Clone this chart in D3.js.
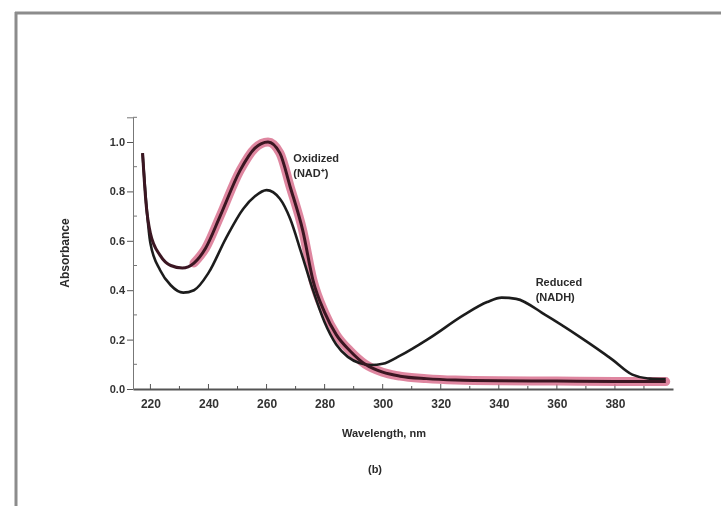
<!DOCTYPE html>
<html>
<head>
<meta charset="utf-8">
<script src="https://cdn.jsdelivr.net/npm/d3@7"></script>
<style>
  body { margin: 0; background: #fff; }
  svg text { font-family: "Liberation Sans", Arial, sans-serif; fill: #2a2a2a; }
</style>
</head>
<body>
<svg id="chart" width="721" height="506"></svg>
<script>
// wavelengths (nm) and absorbance
var oxWave = [217.3, 218.5, 220, 223.4, 227, 231, 235, 239, 244, 250.9, 256, 260.5, 264.6, 268.1, 272.5, 276, 280, 284, 288.7, 294, 300, 306, 315, 325, 340, 360, 380, 397.5];
var oxAbs  = [0.955, 0.75, 0.63, 0.54, 0.5, 0.49, 0.51, 0.57, 0.7, 0.885, 0.975, 1.0, 0.955, 0.82, 0.64, 0.44, 0.31, 0.22, 0.155, 0.1, 0.068, 0.052, 0.042, 0.036, 0.033, 0.032, 0.03, 0.03];

var redWave = [217.3, 218.5, 220, 223.4, 227, 231.3, 235, 240, 246, 252, 256, 260, 264.6, 268.1, 272, 276, 280, 284, 288, 292, 296, 300, 306, 316, 328, 336, 341, 346, 356, 368, 379, 386, 392, 397.5];
var redAbs  = [0.955, 0.76, 0.59, 0.48, 0.42, 0.39, 0.4, 0.47, 0.61, 0.73, 0.78, 0.805, 0.77, 0.69, 0.55, 0.4, 0.27, 0.18, 0.13, 0.105, 0.097, 0.102, 0.135, 0.205, 0.3, 0.352, 0.37, 0.365, 0.3, 0.21, 0.12, 0.058, 0.042, 0.04];

var xTicks = [220, 240, 260, 280, 300, 320, 340, 360, 380];
var yTicks = [0, 0.2, 0.4, 0.6, 0.8, 1.0];
var curveLabels = [
  { lines: ["Oxidized", "(NAD\u207A)"], wave: 268.5, abs: 0.92 },
  { lines: ["Reduced", "(NADH)"], wave: 352, abs: 0.415 }
];

var svg = d3.select("#chart");

// slight softening like the scanned figure
var defs = svg.append("defs");
defs.append("filter").attr("id", "soft")
  .append("feGaussianBlur").attr("stdDeviation", 0.6);

// photo frame (top and left edges)
svg.append("line").attr("x1", 15).attr("y1", 13).attr("x2", 721).attr("y2", 13)
  .style("stroke", "#8c8c8c").style("stroke-width", 3);
svg.append("line").attr("x1", 16).attr("y1", 12).attr("x2", 16).attr("y2", 506)
  .style("stroke", "#8c8c8c").style("stroke-width", 3);

var x = d3.scaleLinear().domain([214, 400]).range([133, 673]);
var y = d3.scaleLinear().domain([0, 1.1]).range([389, 117.3]);

var g = svg.append("g").attr("filter", "url(#soft)");

// axes
var xAxis = d3.axisBottom(x).tickValues(xTicks).tickSize(0).tickPadding(10)
  .tickFormat(d3.format("d"));
var gx = g.append("g").attr("transform", "translate(0," + y(0) + ")").call(xAxis);
gx.select(".domain").style("stroke", "#555").style("stroke-width", 2.2);
gx.selectAll("text").style("font-size", "12px").style("font-weight", "bold").style("fill", "#333");

// small upward ticks on the x axis
g.selectAll(".xminor").data(d3.range(220, 400, 10)).enter().append("line")
  .attr("x1", function (d) { return x(d); }).attr("x2", function (d) { return x(d); })
  .attr("y1", y(0)).attr("y2", function (d) { return y(0) - (d % 20 == 0 ? 5 : 3); })
  .style("stroke", "#555").style("stroke-width", 1);

var yAxis = d3.axisLeft(y).tickValues(yTicks).tickSize(6).tickPadding(2)
  .tickFormat(d3.format(".1f"));
var gy = g.append("g").attr("transform", "translate(" + x(214) + ",0)").call(yAxis);
gy.select(".domain").style("stroke", "#777").style("stroke-width", 1);
gy.selectAll(".tick line").style("stroke", "#555");
gy.selectAll("text").style("font-size", "11px").style("font-weight", "bold").style("fill", "#333");

g.selectAll(".yminor").data([0.1, 0.3, 0.5, 0.7, 0.9, 1.1]).enter().append("line")
  .attr("x1", x(214)).attr("x2", x(214) + 4)
  .attr("y1", function (d) { return y(d); }).attr("y2", function (d) { return y(d); })
  .style("stroke", "#777").style("stroke-width", 1);

// axis titles
g.append("text").attr("transform", "translate(69,253) rotate(-90)")
  .attr("text-anchor", "middle").style("font-size", "12px").style("font-weight", "bold")
  .text("Absorbance");
g.append("text").attr("x", 384).attr("y", 437).attr("text-anchor", "middle")
  .style("font-size", "11px").style("font-weight", "bold").text("Wavelength, nm");
g.append("text").attr("x", 375).attr("y", 473).attr("text-anchor", "middle")
  .style("font-size", "11px").style("font-weight", "bold").text("(b)");

// curves
var oxData = oxWave.map(function (w, i) { return [w, oxAbs[i]]; });
var redData = redWave.map(function (w, i) { return [w, redAbs[i]]; });

var line = d3.line()
  .x(function (d) { return x(d[0]); })
  .y(function (d) { return y(d[1]); })
  .curve(d3.curveMonotoneX);

// pink band under the oxidized curve
g.append("path").datum(oxData.filter(function (d) { return d[0] >= 234; }))
  .attr("d", line)
  .style("fill", "none").style("stroke", "#d9728f").style("stroke-width", 9)
  .style("stroke-linecap", "round").style("opacity", 0.85);

g.append("path").datum(redData).attr("d", line)
  .style("fill", "none").style("stroke", "#1e1e1e").style("stroke-width", 2.6);

g.append("path").datum(oxData).attr("d", line)
  .style("fill", "none").style("stroke", "#3b1822").style("stroke-width", 3);

// curve labels
curveLabels.forEach(function (lab) {
  var t = g.append("text").attr("x", x(lab.wave) + 2).attr("y", y(lab.abs))
    .style("font-size", "11px").style("font-weight", "bold");
  lab.lines.forEach(function (s, i) {
    t.append("tspan").attr("x", x(lab.wave) + 2).attr("dy", i == 0 ? 0 : 15).text(s);
  });
});
</script>
</body>
</html>
